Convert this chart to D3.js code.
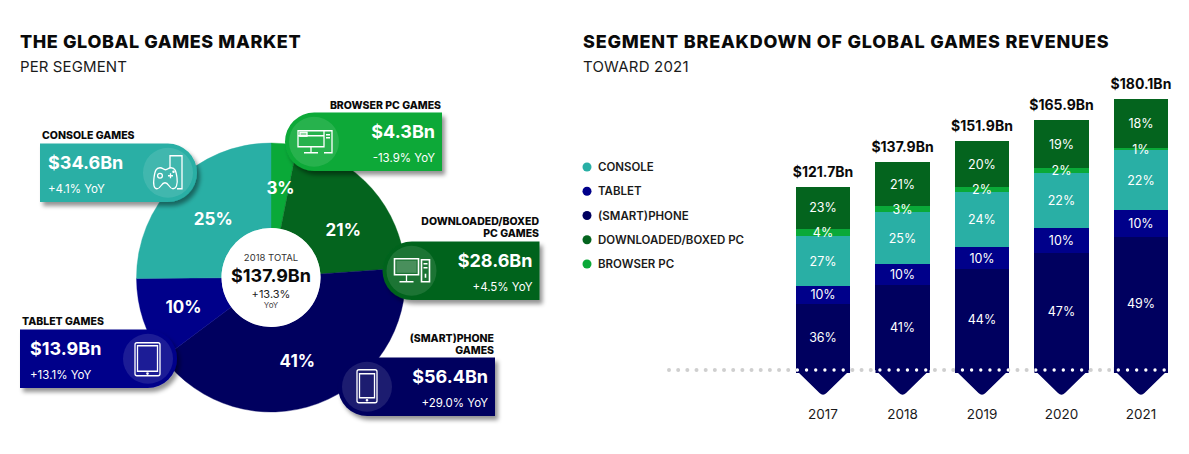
<!DOCTYPE html>
<html>
<head>
<meta charset="utf-8">
<script src="https://cdn.jsdelivr.net/npm/d3@7"></script>
<style>
  html, body { margin: 0; background: #fff; }
  svg { display: block; }
  text { font-family: Inter, "Open Sans", sans-serif; }
</style>
</head>
<body>
<svg id="chart"></svg>
<script>
// pie data, clockwise from 12 o'clock
const segments = ['BROWSER', 'DOWNLOADED', 'PHONE', 'TABLET', 'CONSOLE']
const segmentRevenue = [4.3, 28.6, 56.4, 13.9, 34.6]
const segmentShare = ['3%', '21%', '41%', '10%', '25%']
const segmentGrowth = ['-13.9% YoY', '+4.5% YoY', '+29.0% YoY', '+13.1% YoY', '+4.1% YoY']
const segmentTitles = [
    ['BROWSER PC GAMES'],
    ['DOWNLOADED/BOXED', 'PC GAMES'],
    ['(SMART)PHONE', 'GAMES'],
    ['TABLET GAMES'],
    ['CONSOLE GAMES']
]

// stacked bars
const years = ['2017', '2018', '2019', '2020', '2021']
const totals = [121.7, 137.9, 151.9, 165.9, 180.1]
const phoneShare = [36, 41, 44, 47, 49]
const tabletShare = [10, 10, 10, 10, 10]
const consoleShare = [27, 25, 24, 22, 22]
const browserShare = [4, 3, 2, 2, 1]
const downloadedShare = [23, 21, 20, 19, 18]

const legendLabels = ['CONSOLE', 'TABLET', '(SMART)PHONE', 'DOWNLOADED/BOXED PC', 'BROWSER PC']

const colors = {
    BROWSER: '#0aa938',
    DOWNLOADED: '#04641e',
    PHONE: '#00005f',
    TABLET: '#00008a',
    CONSOLE: '#29afa5'
}
const legendColors = [colors.CONSOLE, colors.TABLET, colors.PHONE, colors.DOWNLOADED, colors.BROWSER]

const width = 1189
const height = 454

const svg = d3.select('#chart').attr('width', width).attr('height', height)

const defs = svg.append('defs')
const shadow = defs.append('filter').attr('id', 'shadow')
    .attr('x', '-10%').attr('y', '-15%').attr('width', '125%').attr('height', '140%')
shadow.append('feDropShadow')
    .attr('dx', 3).attr('dy', 4).attr('stdDeviation', 2)
    .attr('flood-color', '#000').attr('flood-opacity', 0.42)

function label(g, x, y, str, size, weight, fill, anchor, spacing) {
    return g.append('text')
        .attr('x', x).attr('y', y)
        .attr('font-size', size)
        .attr('font-weight', weight)
        .attr('fill', fill)
        .attr('text-anchor', anchor || 'start')
        .attr('letter-spacing', spacing || 0)
        .text(str)
}

// headers
label(svg, 20, 48, 'THE GLOBAL GAMES MARKET', 18, 800, '#0a0a0a', 'start', 0.6)
label(svg, 20, 72, 'PER SEGMENT', 15, 400, '#1a1a1a', 'start', 0.1)
label(svg, 583, 48, 'SEGMENT BREAKDOWN OF GLOBAL GAMES REVENUES', 18, 800, '#0a0a0a', 'start', 0.8)
label(svg, 583, 72, 'TOWARD 2021', 15, 400, '#1a1a1a', 'start', 0.2)

// ---------- donut ----------
const cx = 271
const cy = 277.5
const outerR = 134.5
const innerR = 49.5

const pie = d3.pie().sort(null).value(d => d)
const arc = d3.arc().innerRadius(innerR).outerRadius(outerR)
const labelArc = d3.arc().innerRadius(87).outerRadius(87)
const pieData = pie(segmentRevenue)

const donut = svg.append('g').attr('transform', `translate(${cx},${cy})`)

donut.selectAll('path')
    .data(pieData)
    .join('path')
    .attr('d', arc)
    .attr('fill', (d, i) => colors[segments[i]])
    .attr('stroke', (d, i) => colors[segments[i]])
    .attr('stroke-width', 0.4)

donut.append('circle').attr('r', innerR).attr('fill', '#fff')

// a few labels sit off the centroid in the original
const labelNudge = [[1, -3], [7, 10], [-4, 2], [-5, 2], [4, 3]]

donut.selectAll('.share')
    .data(pieData)
    .join('text')
    .attr('class', 'share')
    .attr('transform', (d, i) => {
        const c = labelArc.centroid(d)
        return `translate(${c[0] + labelNudge[i][0]},${c[1] + labelNudge[i][1]})`
    })
    .attr('text-anchor', 'middle')
    .attr('dy', '0.36em')
    .attr('font-size', 17)
    .attr('font-weight', 700)
    .attr('fill', '#fff')
    .text((d, i) => segmentShare[i])

label(donut, 0, -17, '2018 TOTAL', 9.5, 400, '#333', 'middle')
label(donut, 0, 4.5, '$137.9Bn', 18, 700, '#0a0a0a', 'middle')
label(donut, 0, 20, '+13.3%', 11, 400, '#222', 'middle')
label(donut, 0, 30.5, 'YoY', 8, 400, '#444', 'middle')

// ---------- cards ----------
// side = which side has the round end, where the icon is
const cardW = 157
const cardH = 58.5
const cardLayout = {
    BROWSER: { x: 285, y: 112.5, side: 'left', titleX: 441, titleY: 109 },
    DOWNLOADED: { x: 382.5, y: 241.5, side: 'left', titleX: 539, titleY: 225 },
    PHONE: { x: 338, y: 357.5, side: 'left', titleX: 494, titleY: 342 },
    TABLET: { x: 20, y: 329.5, side: 'right', titleX: 22, titleY: 325 },
    CONSOLE: { x: 40, y: 143.5, side: 'right', titleX: 42, titleY: 139 }
}

function cardPath(w, h, side) {
    const r = h / 2
    const p = d3.path()
    if (side === 'right') {
        p.moveTo(0, 0)
        p.lineTo(w - r, 0)
        p.arc(w - r, r, r, -Math.PI / 2, Math.PI / 2)
        p.lineTo(0, h)
    } else {
        p.moveTo(w, 0)
        p.lineTo(r, 0)
        p.arc(r, r, r, -Math.PI / 2, Math.PI / 2, true)
        p.lineTo(w, h)
    }
    p.closePath()
    return p.toString()
}

// icons are drawn around 0,0 with a white outline
const icons = {
    CONSOLE(g) {
        g.append('path').attr('d', 'M2-5V-17H14V16H9')
        g.append('circle').attr('cx', 5.5).attr('cy', -1).attr('r', 0.6)
        g.append('path').attr('d', 'M-8-5C-12-5-13-2-14 5-15 12-14 16-11 16-7 16-7 10-3 10 1 10 1 16 5 16 8 16 10 12 9 5 8-2 7-5 3-5 0-5 0-3-2.5-3-5-3-5-5-8-5Z')
        g.append('circle').attr('cx', -8).attr('cy', 3).attr('r', 2.4)
        g.append('path').attr('d', 'M0 3H5M2.5 .5V5.5')
    },
    BROWSER(g) {
        g.append('path').attr('d', 'M10-11H-16V5H10ZM-16-6H10')
        g.append('path').attr('d', 'M-3 5V11M-10 11H4')
        g.append('path').attr('d', 'M10-11H18V11H10M12-7H16M12-4H16')
        g.append('rect').attr('x', -14).attr('y', -9.5).attr('width', 7).attr('height', 4).attr('fill', '#fff').attr('fill-opacity', 0.5)
    },
    DOWNLOADED(g) {
        g.append('path').attr('d', 'M-17-12H7V4H-17Z').attr('stroke-width', 1.6)
        g.append('path').attr('d', 'M-15-10H5V2H-15Z').attr('fill', '#fff').attr('fill-opacity', 0.2).attr('stroke', 'none')
        g.append('path').attr('d', 'M-5 4V11M-12 11H2')
        g.append('path').attr('d', 'M10-11H18V11H10ZM12-7H16M12-3H16M14 3V7').attr('stroke-width', 1.6)
    },
    PHONE(g) {
        g.append('rect').attr('x', -10).attr('y', -17).attr('width', 20).attr('height', 33).attr('rx', 2)
        g.append('path').attr('d', 'M-7.5-13H7.5V11H-7.5Z')
        g.append('circle').attr('cx', 0).attr('cy', 13.5).attr('r', 0.7)
    },
    TABLET(g) {
        g.append('rect').attr('x', -13).attr('y', -16).attr('width', 25).attr('height', 33).attr('rx', 2)
        g.append('path').attr('d', 'M-10.5-13H9.5V12.5H-10.5Z')
        g.append('circle').attr('cx', -0.5).attr('cy', 14.8).attr('r', 0.7)
    }
}

segments.forEach((seg, i) => {
    const pos = cardLayout[seg]
    const onRight = pos.side === 'right'
    const g = svg.append('g').attr('transform', `translate(${pos.x},${pos.y})`)

    g.append('path')
        .attr('d', cardPath(cardW, cardH, pos.side))
        .attr('fill', colors[seg])
        .attr('filter', 'url(#shadow)')

    const iconX = onRight ? cardW - 29 : 29
    g.append('circle')
        .attr('cx', iconX).attr('cy', cardH / 2).attr('r', 25)
        .attr('fill', '#fff').attr('fill-opacity', 0.11)

    const icon = g.append('g')
        .attr('transform', `translate(${iconX},${cardH / 2})`)
        .attr('fill', 'none')
        .attr('stroke', '#fff')
        .attr('stroke-width', 1.3)
    icons[seg](icon)

    const textX = onRight ? (seg === 'TABLET' ? 10 : 8) : cardW - 7
    const anchor = onRight ? 'start' : 'end'
    label(g, textX, 25, '$' + segmentRevenue[i].toFixed(1) + 'Bn', 18, 700, '#fff', anchor)
    label(g, textX, 49, segmentGrowth[i], 11.5, 400, '#fff', anchor)

    segmentTitles[i].forEach((line, k) => {
        label(svg, pos.titleX, pos.titleY + k * 12, line, 10.5, 800, '#0a0a0a', onRight ? 'start' : 'end')
    })
})

// ---------- legend ----------
const legendY = d3.scalePoint().domain(legendLabels).range([167, 264])
const legend = svg.append('g')
legend.selectAll('circle')
    .data(legendLabels)
    .join('circle')
    .attr('cx', 587)
    .attr('cy', d => legendY(d))
    .attr('r', 4.5)
    .attr('fill', (d, i) => legendColors[i])
legend.selectAll('text')
    .data(legendLabels)
    .join('text')
    .attr('x', 598)
    .attr('y', d => legendY(d))
    .attr('dy', '0.36em')
    .attr('font-size', 11.5)
    .attr('font-weight', 600)
    .attr('fill', '#1a1a1a')
    .text(d => d)

// ---------- stacked bars ----------
const baseline = 370
const xScale = d3.scaleBand()
    .domain(years)
    .range([796, 1168])
    .paddingInner(0.32)
    .paddingOuter(0)

const yScale = d3.scaleLinear()
    .domain([0, 180.1])
    .range([baseline, 99])

const stackKeys = ['PHONE', 'TABLET', 'CONSOLE', 'BROWSER', 'DOWNLOADED']
const shareByKey = {
    PHONE: phoneShare,
    TABLET: tabletShare,
    CONSOLE: consoleShare,
    BROWSER: browserShare,
    DOWNLOADED: downloadedShare
}
const rows = years.map((year, i) => {
    const row = { year }
    stackKeys.forEach(k => { row[k] = shareByKey[k][i] / 100 * totals[i] })
    return row
})
const stacked = d3.stack().keys(stackKeys)(rows)

const bars = svg.append('g').attr('shape-rendering', 'crispEdges')

bars.selectAll('g')
    .data(stacked)
    .join('g')
    .attr('fill', d => colors[d.key])
    .selectAll('rect')
    .data(d => d)
    .join('rect')
    .attr('x', d => xScale(d.data.year))
    .attr('y', d => Math.round(yScale(d[1])))
    .attr('width', xScale.bandwidth())
    .attr('height', d => Math.round(yScale(d[0])) - Math.round(yScale(d[1])))

// arrow point below the baseline, same colour as the bottom segment
const tipDepth = 26
svg.append('g')
    .selectAll('path')
    .data(years)
    .join('path')
    .attr('fill', colors.PHONE)
    .attr('d', year => {
        const x0 = xScale(year)
        const x1 = x0 + xScale.bandwidth()
        const mid = (x0 + x1) / 2
        const p = d3.path()
        p.moveTo(x0, baseline)
        p.lineTo(mid - 3.5, baseline + tipDepth - 3)
        p.quadraticCurveTo(mid, baseline + tipDepth + 0.5, mid + 3.5, baseline + tipDepth - 3)
        p.lineTo(x1, baseline)
        p.closePath()
        return p.toString()
    })

// dotted baseline: grey outside the bars, white inside
const dotStart = 669
const dotEnd = 1172
const dotGap = 9.17
svg.append('line')
    .attr('x1', dotStart).attr('x2', dotEnd)
    .attr('y1', baseline).attr('y2', baseline)
    .attr('stroke', '#cfcfcf')
    .attr('stroke-width', 4)
    .attr('stroke-linecap', 'round')
    .attr('stroke-dasharray', `0 ${dotGap}`)

const clip = defs.append('clipPath').attr('id', 'barClip')
clip.selectAll('rect')
    .data(years)
    .join('rect')
    .attr('x', d => xScale(d))
    .attr('y', baseline - 4)
    .attr('width', xScale.bandwidth())
    .attr('height', 8)

// bar fill again under the white dots, so the grey ones don't show through
svg.append('g').selectAll('rect')
    .data(years)
    .join('rect')
    .attr('x', d => xScale(d))
    .attr('y', baseline - 3)
    .attr('width', xScale.bandwidth())
    .attr('height', 6)
    .attr('fill', colors.PHONE)

svg.append('line')
    .attr('clip-path', 'url(#barClip)')
    .attr('x1', dotStart).attr('x2', dotEnd)
    .attr('y1', baseline).attr('y2', baseline)
    .attr('stroke', '#fff')
    .attr('stroke-width', 3.4)
    .attr('stroke-linecap', 'round')
    .attr('stroke-dasharray', `0 ${dotGap}`)

// percent labels in the segments
stacked.forEach(layer => {
    svg.append('g').selectAll('text')
        .data(layer)
        .join('text')
        .attr('x', d => xScale(d.data.year) + xScale.bandwidth() / 2)
        .attr('y', d => (yScale(d[0]) + yScale(d[1])) / 2)
        .attr('dy', '0.36em')
        .attr('text-anchor', 'middle')
        .attr('font-size', 12.5)
        .attr('font-weight', 400)
        .attr('fill', '#fff')
        .text((d, i) => shareByKey[layer.key][i] + '%')
})

// totals above the bars
svg.append('g').selectAll('text')
    .data(years)
    .join('text')
    .attr('x', d => xScale(d) + xScale.bandwidth() / 2)
    .attr('y', (d, i) => yScale(totals[i]) - 10)
    .attr('text-anchor', 'middle')
    .attr('font-size', 14)
    .attr('font-weight', 700)
    .attr('fill', '#0a0a0a')
    .text((d, i) => '$' + totals[i].toFixed(1) + 'Bn')

// year axis
const xAxis = d3.axisBottom(xScale).tickSize(0).tickPadding(0)
const axisG = svg.append('g')
    .attr('transform', 'translate(0,409)')
    .call(xAxis)
axisG.select('.domain').remove()
axisG.selectAll('text')
    .attr('font-size', 13.5)
    .attr('fill', '#1a1a1a')
    .style('font-family', 'Inter, sans-serif')
</script>
</body>
</html>
